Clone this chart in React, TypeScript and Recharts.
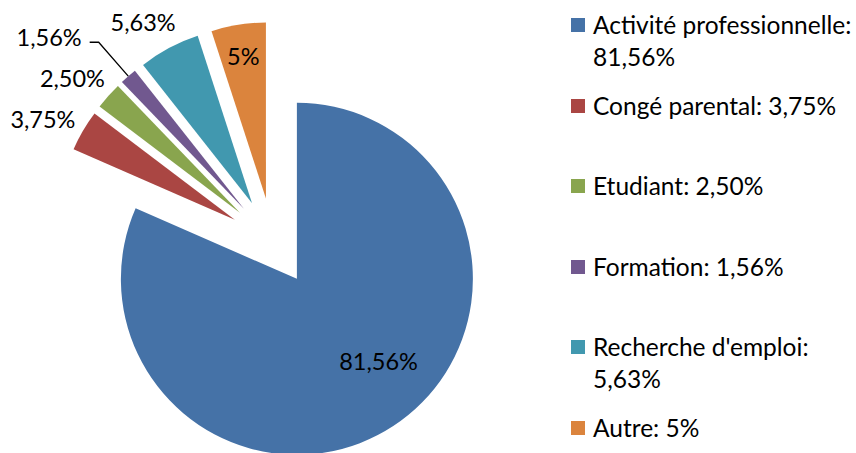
import { PieChart, Pie, Cell, Sector, Legend } from "recharts";

const categories = [
  "Activité professionnelle",
  "Congé parental",
  "Etudiant",
  "Formation",
  "Recherche d'emploi",
  "Autre",
];
const shares = [81.56, 3.75, 2.5, 1.56, 5.63, 5];
const colors = ["#4572A7", "#AA4643", "#89A54E", "#71588F", "#4198AF", "#DB843D"];

// labels drawn inside the slice, the rest go outside
const insideLabels = ["Activité professionnelle", "Autre"];

const RAD = Math.PI / 180;
const EXPLODE = 44;
const FONT = "Lato, 'Noto Sans', sans-serif";

const fmt = (v: number) =>
  (Number.isInteger(v) ? String(v) : v.toFixed(2).replace(".", ",")) + "%";

const data = categories.map((name, i) => ({ name, value: shares[i] }));

// move every slice outward along its own mid angle
const renderSlice = (props: any) => {
  const a = -props.midAngle * RAD;
  return (
    <Sector
      {...props}
      cx={props.cx + EXPLODE * Math.cos(a)}
      cy={props.cy + EXPLODE * Math.sin(a)}
      stroke="none"
    />
  );
};

const renderLabel = (props: any) => {
  const { cx, cy, midAngle, outerRadius, index, percent } = props;
  const a = -midAngle * RAD;
  const ex = cx + EXPLODE * Math.cos(a);
  const ey = cy + EXPLODE * Math.sin(a);
  const text = fmt(shares[index]);
  const name = categories[index];

  if (insideLabels.includes(name)) {
    const big = percent > 0.5;
    const r = outerRadius * (big ? 0.66 : 0.82);
    const b = big ? -(midAngle + 11.5) * RAD : a;
    return (
      <text
        x={ex + r * Math.cos(b)}
        y={ey + r * Math.sin(b)}
        textAnchor="middle"
        dominantBaseline="central"
        fontFamily={FONT}
        fontSize={23.5}
        fill="#000"
      >
        {text}
      </text>
    );
  }

  if (percent < 0.02) {
    // leader line for the thinnest slice
    const sx = ex + outerRadius * Math.cos(a);
    const sy = ey + outerRadius * Math.sin(a);
    const mx = ex + (outerRadius + 45) * Math.cos(a);
    const my = ey + (outerRadius + 45) * Math.sin(a);
    return (
      <g>
        <polyline
          points={`${sx},${sy} ${mx},${my} ${mx - 9},${my}`}
          fill="none"
          stroke="#000"
          strokeWidth={1.3}
        />
        <text
          x={mx - 17}
          y={my - 5}
          textAnchor="end"
          dominantBaseline="central"
          fontFamily={FONT}
          fontSize={23.5}
          fill="#000"
        >
          {text}
        </text>
      </g>
    );
  }

  const r = outerRadius + 36;
  return (
    <text
      x={ex + r * Math.cos(a) - 9}
      y={ey + r * Math.sin(a) + 6}
      textAnchor="middle"
      dominantBaseline="central"
      fontFamily={FONT}
      fontSize={23.5}
      fill="#000"
    >
      {text}
    </text>
  );
};

const renderLegend = () => (
  <div style={{ position: "relative", width: 285, height: 453 }}>
    {categories.map((name, i) => (
      <div
        key={name}
        style={{
          position: "absolute",
          left: 0,
          top: 9 + i * 80.6,
          width: 285,
          fontFamily: FONT,
          fontSize: 24.5,
          lineHeight: "32px",
          color: "#000",
        }}
      >
        <span
          style={{
            position: "absolute",
            left: 0,
            top: 9,
            width: 14,
            height: 14,
            background: colors[i],
          }}
        />
        <div style={{ marginLeft: 22, width: 262 }}>
          <span style={{ whiteSpace: "nowrap" }}>{name}:</span>{" "}
          <span style={{ whiteSpace: "nowrap" }}>{fmt(shares[i])}</span>
        </div>
      </div>
    ))}
  </div>
);

export default function App() {
  return (
    <div
      style={{
        position: "absolute",
        left: 0,
        top: 0,
        width: 856,
        height: 453,
        background: "#fff",
        overflow: "hidden",
      }}
    >
      <PieChart width={856} height={453} margin={{ top: 0, right: 0, bottom: 0, left: 0 }}>
        <Pie
          data={data}
          dataKey="value"
          nameKey="name"
          cx={272.8}
          cy={242}
          outerRadius={176}
          startAngle={90}
          endAngle={-270}
          paddingAngle={0}
          shape={renderSlice}
          label={renderLabel}
          labelLine={false}
          isAnimationActive={false}
        >
          {data.map((d, i) => (
            <Cell key={d.name} fill={colors[i]} />
          ))}
        </Pie>
        <Legend
          content={renderLegend}
          wrapperStyle={{ position: "absolute", left: 571, top: 0, width: 285, height: 453 }}
        />
      </PieChart>
    </div>
  );
}
